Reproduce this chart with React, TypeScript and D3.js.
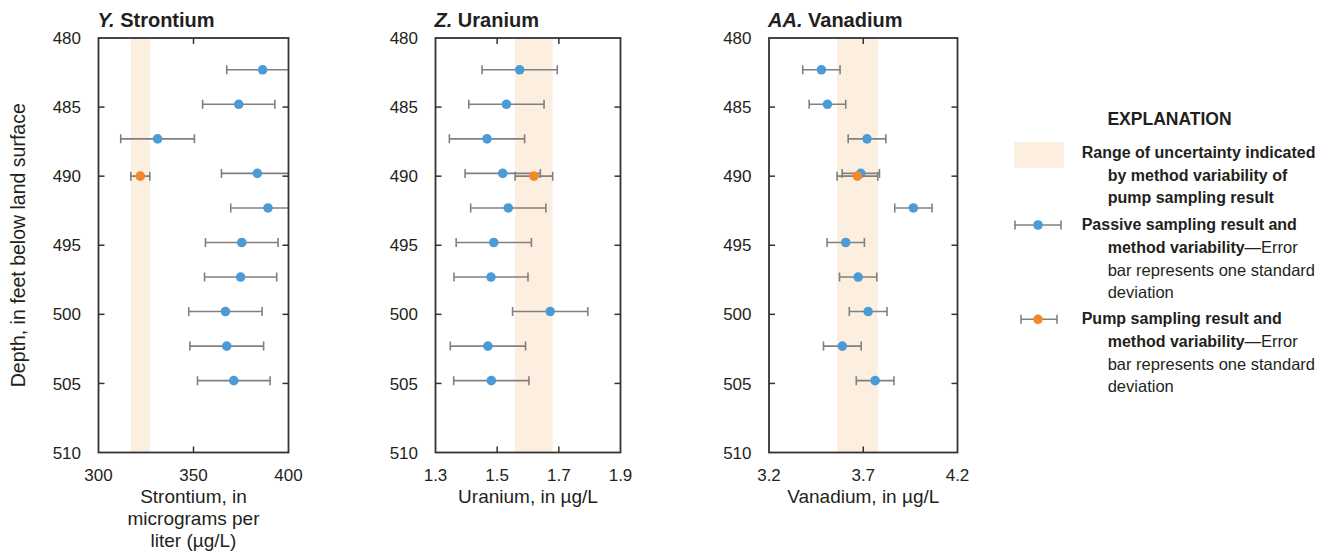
import React from 'react';
import * as d3 from 'd3';

// Depth axis (feet below land surface)
const depthDomain = [480, 510];
const depthTicks = [480, 485, 490, 495, 500, 505, 510];
const passiveDepths = [482.3, 484.8, 487.3, 489.8, 492.3, 494.8, 497.3, 499.8, 502.3, 504.8];
const pumpDepth = 490;

// Strontium, in micrograms per liter
const strontiumTicks = [300, 350, 400];
const strontiumPassive = [386.4, 373.8, 331.1, 383.6, 389.2, 375.4, 374.8, 366.8, 367.5, 371.2];
const strontiumPassiveSd = [18.9, 19.0, 19.4, 18.9, 19.6, 19.1, 19.0, 19.3, 19.4, 19.1];
const strontiumPump = 322.0;
const strontiumPumpSd = 5.0;

// Uranium, in micrograms per liter
const uraniumTicks = [1.3, 1.5, 1.7, 1.9];
const uraniumPassive = [1.573, 1.53, 1.467, 1.518, 1.536, 1.489, 1.48, 1.672, 1.47, 1.481];
const uraniumPassiveSd = [0.122, 0.122, 0.122, 0.122, 0.122, 0.122, 0.12, 0.122, 0.122, 0.122];
const uraniumPump = 1.619;
const uraniumPumpSd = 0.061;

// Vanadium, in micrograms per liter
const vanadiumTicks = [3.2, 3.7, 4.2];
const vanadiumPassive = [3.478, 3.51, 3.72, 3.687, 3.966, 3.607, 3.673, 3.726, 3.589, 3.763];
const vanadiumPassiveSd = [0.099, 0.097, 0.1, 0.099, 0.099, 0.099, 0.099, 0.1, 0.1, 0.1];
const vanadiumPump = 3.669;
const vanadiumPumpSd = 0.108;

const BLUE = '#4b9bd6';
const ORANGE = '#f08a26';
const BAND = '#fcefdf';
const BAR = '#808080';
const FRAME = '#333333';
const TEXT = '#231f20';

const SANS = "'Liberation Sans', Arial, sans-serif";
const NARROW = "'Liberation Sans Narrow', 'Liberation Sans', Arial, sans-serif";

const TOP = 38;
const BOTTOM = 452.5;

type PanelDef = {
  id: string;
  letter: string;
  name: string;
  domain: [number, number];
  ticks: number[];
  fmt: (v: number) => string;
  passive: number[];
  passiveSd: number[];
  pump: number;
  pumpSd: number;
  left: number;
  right: number;
  title: string[];
};

const panels: PanelDef[] = [
  {
    id: 'sr',
    letter: 'Y.',
    name: 'Strontium',
    domain: [300, 400],
    ticks: strontiumTicks,
    fmt: d3.format('d'),
    passive: strontiumPassive,
    passiveSd: strontiumPassiveSd,
    pump: strontiumPump,
    pumpSd: strontiumPumpSd,
    left: 98.5,
    right: 288.5,
    title: ['Strontium, in', 'micrograms per', 'liter (µg/L)'],
  },
  {
    id: 'u',
    letter: 'Z.',
    name: 'Uranium',
    domain: [1.3, 1.9],
    ticks: uraniumTicks,
    fmt: d3.format('.1f'),
    passive: uraniumPassive,
    passiveSd: uraniumPassiveSd,
    pump: uraniumPump,
    pumpSd: uraniumPumpSd,
    left: 435.5,
    right: 620.5,
    title: ['Uranium, in µg/L'],
  },
  {
    id: 'v',
    letter: 'AA.',
    name: 'Vanadium',
    domain: [3.2, 4.2],
    ticks: vanadiumTicks,
    fmt: d3.format('.1f'),
    passive: vanadiumPassive,
    passiveSd: vanadiumPassiveSd,
    pump: vanadiumPump,
    pumpSd: vanadiumPumpSd,
    left: 769,
    right: 957.5,
    title: ['Vanadium, in µg/L'],
  },
];

const CAP = 4.5;
const R = 4.8;

function ErrorBar({ x0, x1, cx, cy, color, r }: { x0: number; x1: number; cx: number; cy: number; color: string; r: number }) {
  return (
    <g>
      <line x1={x0} x2={x1} y1={cy} y2={cy} stroke={BAR} strokeWidth={1.6} />
      <line x1={x0} x2={x0} y1={cy - CAP} y2={cy + CAP} stroke={BAR} strokeWidth={1.6} />
      <line x1={x1} x2={x1} y1={cy - CAP} y2={cy + CAP} stroke={BAR} strokeWidth={1.6} />
      <circle cx={cx} cy={cy} r={r} fill={color} />
    </g>
  );
}

function Panel({ p }: { p: PanelDef }) {
  const x = d3.scaleLinear().domain(p.domain).range([p.left, p.right]);
  const y = d3.scaleLinear().domain(depthDomain).range([TOP, BOTTOM]);
  const innerY = depthTicks.slice(1, -1);
  const innerX = p.ticks.slice(1, -1);
  const clipId = `clip-${p.id}`;
  const cx = (p.left + p.right) / 2;
  return (
    <g>
      <defs>
        <clipPath id={clipId}>
          <rect x={p.left} y={TOP} width={p.right - p.left} height={BOTTOM - TOP} />
        </clipPath>
      </defs>
      {/* pump-sample uncertainty band */}
      <rect
        x={x(p.pump - p.pumpSd)}
        y={TOP}
        width={x(p.pump + p.pumpSd) - x(p.pump - p.pumpSd)}
        height={BOTTOM - TOP}
        fill={BAND}
      />
      <g clipPath={`url(#${clipId})`}>
        {p.passive.map((v, i) => (
          <ErrorBar
            key={i}
            x0={x(v - p.passiveSd[i])}
            x1={x(v + p.passiveSd[i])}
            cx={x(v)}
            cy={y(passiveDepths[i])}
            color={BLUE}
            r={R}
          />
        ))}
        <ErrorBar
          x0={x(p.pump - p.pumpSd)}
          x1={x(p.pump + p.pumpSd)}
          cx={x(p.pump)}
          cy={y(pumpDepth)}
          color={ORANGE}
          r={R}
        />
      </g>
      {/* inward ticks */}
      {innerY.map((d) => (
        <g key={`yt${d}`}>
          <line x1={p.left} x2={p.left + 6} y1={y(d)} y2={y(d)} stroke={FRAME} strokeWidth={1.5} />
          <line x1={p.right - 6} x2={p.right} y1={y(d)} y2={y(d)} stroke={FRAME} strokeWidth={1.5} />
        </g>
      ))}
      {innerX.map((d) => (
        <g key={`xt${d}`}>
          <line x1={x(d)} x2={x(d)} y1={TOP} y2={TOP + 6} stroke={FRAME} strokeWidth={1.5} />
          <line x1={x(d)} x2={x(d)} y1={BOTTOM - 6} y2={BOTTOM} stroke={FRAME} strokeWidth={1.5} />
        </g>
      ))}
      <rect x={p.left} y={TOP} width={p.right - p.left} height={BOTTOM - TOP} fill="none" stroke={FRAME} strokeWidth={1.8} />
      {/* tick labels */}
      {depthTicks.map((d) => (
        <text
          key={`yl${d}`}
          x={p.left - 17.5}
          y={y(d)}
          dy="0.36em"
          textAnchor="end"
          fontFamily={NARROW}
          fontSize={17}
          fill={TEXT}
        >
          {d}
        </text>
      ))}
      {p.ticks.map((d) => (
        <text
          key={`xl${d}`}
          x={x(d)}
          y={481}
          textAnchor="middle"
          fontFamily={NARROW}
          fontSize={17}
          fill={TEXT}
        >
          {p.fmt(d)}
        </text>
      ))}
      {/* panel title */}
      <text x={p.left - 1} y={26.5} fontFamily={SANS} fontSize={20} fontWeight="bold" fill={TEXT}>
        <tspan fontStyle="italic">{p.letter}</tspan>
        <tspan> {p.name}</tspan>
      </text>
      {/* axis title */}
      {p.title.map((t, i) => (
        <text
          key={`at${i}`}
          x={cx}
          y={502.5 + i * 22}
          textAnchor="middle"
          fontFamily={SANS}
          fontSize={19}
          fill={TEXT}
        >
          {t}
        </text>
      ))}
    </g>
  );
}

function Legend() {
  const bx = 1081.7;
  const ix = 1107.7;
  const bold = { fontFamily: SANS, fontSize: 16, fontWeight: 'bold' as const, fill: TEXT };
  const reg = { fontFamily: SANS, fontSize: 16.5, fill: TEXT };
  return (
    <g>
      <text x={1169.5} y={125} textAnchor="middle" fontFamily={SANS} fontSize={17.5} fontWeight="bold" fill={TEXT}>
        EXPLANATION
      </text>
      <rect x={1014} y={142} width={50} height={26} fill={BAND} />
      <text x={bx} y={158.3} {...bold}>Range of uncertainty indicated</text>
      <text x={ix} y={181} {...bold}>by method variability of</text>
      <text x={ix} y={203} {...bold}>pump sampling result</text>

      <ErrorBar x0={1015} x1={1061} cx={1038} cy={225} color={BLUE} r={R} />
      <text x={bx} y={230} {...bold}>Passive sampling result and</text>
      <text x={ix} y={252.5} {...bold}>
        method variability<tspan fontWeight="normal" fontSize={16.5}>—Error</tspan>
      </text>
      <text x={ix} y={275.5} {...reg}>bar represents one standard</text>
      <text x={ix} y={297.5} {...reg}>deviation</text>

      <ErrorBar x0={1021} x1={1057} cx={1038} cy={319.3} color={ORANGE} r={R} />
      <text x={bx} y={324.3} {...bold}>Pump sampling result and</text>
      <text x={ix} y={346.7} {...bold}>
        method variability<tspan fontWeight="normal" fontSize={16.5}>—Error</tspan>
      </text>
      <text x={ix} y={369.7} {...reg}>bar represents one standard</text>
      <text x={ix} y={391.7} {...reg}>deviation</text>
    </g>
  );
}

export default function App() {
  const yMid = (TOP + BOTTOM) / 2;
  return (
    <svg
      width={1332}
      height={552}
      viewBox="0 0 1332 552"
      style={{ position: 'absolute', left: 0, top: 0, background: '#ffffff' }}
    >
      <rect x={0} y={0} width={1332} height={552} fill="#ffffff" />
      <text
        transform={`translate(24.5, ${yMid}) rotate(-90)`}
        textAnchor="middle"
        fontFamily={SANS}
        fontSize={19.5}
        fill={TEXT}
      >
        Depth, in feet below land surface
      </text>
      {panels.map((p) => (
        <Panel key={p.id} p={p} />
      ))}
      <Legend />
    </svg>
  );
}
